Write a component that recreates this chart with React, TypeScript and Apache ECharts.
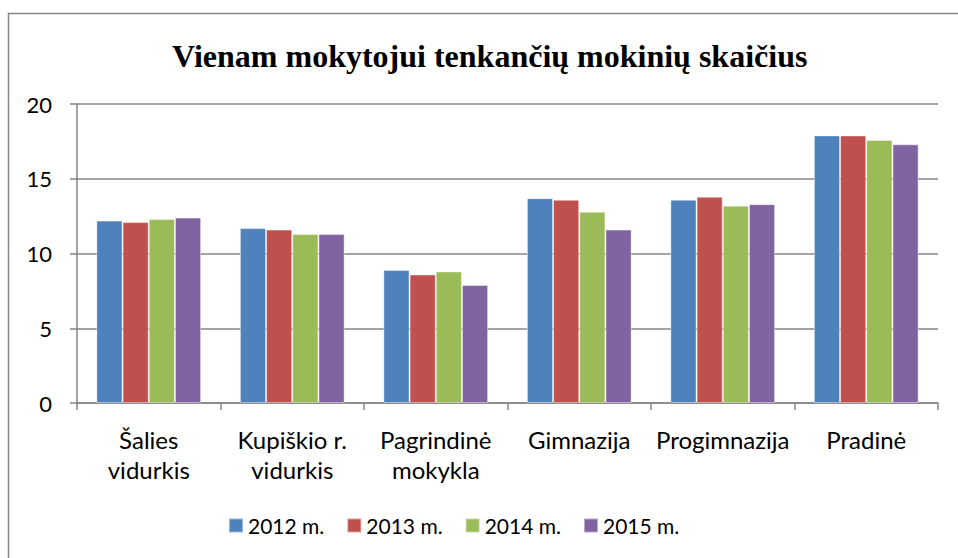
import React, { useEffect, useRef } from "react";
import * as echarts from "echarts";

const categories = [
  "Šalies\nvidurkis",
  "Kupiškio r.\nvidurkis",
  "Pagrindinė\nmokykla",
  "Gimnazija",
  "Progimnazija",
  "Pradinė",
];
const seriesNames = ["2012 m.", "2013 m.", "2014 m.", "2015 m."];
const values2012 = [12.2, 11.7, 8.9, 13.7, 13.6, 17.9];
const values2013 = [12.1, 11.6, 8.6, 13.6, 13.8, 17.9];
const values2014 = [12.3, 11.3, 8.8, 12.8, 13.2, 17.6];
const values2015 = [12.4, 11.3, 7.9, 11.6, 13.3, 17.3];
const colors = ["#4F81BD", "#C0504D", "#9BBB59", "#8064A2"];
const titleText = "Vienam mokytojui tenkančių mokinių skaičius";

export default function App() {
  const ref = useRef<HTMLDivElement>(null);
  useEffect(() => {
    if (!ref.current) return;
    const chart = echarts.init(ref.current, undefined, { renderer: "svg" });
    const allValues = [values2012, values2013, values2014, values2015];
    const font = "Lato, 'Open Sans', sans-serif";
    chart.setOption({
      animation: false,
      backgroundColor: "#ffffff",
      color: colors,
      title: {
        text: titleText,
        left: 167,
        top: 35,
        textStyle: {
          fontFamily: "'Liberation Serif', 'Times New Roman', serif",
          fontWeight: "bold",
          fontSize: 32,
          color: "#000",
        },
      },
      graphic: [
        {
          type: "rect",
          shape: { x: 8.5, y: 13.5, width: 1200, height: 1200 },
          style: { fill: "none", stroke: "#868686", lineWidth: 1.5 },
          silent: true,
        },
      ],
      legend: {
        bottom: 17,
        left: 223,
        itemWidth: 14,
        itemHeight: 14,
        itemGap: 22,
        icon: "rect",
        textStyle: { fontFamily: font, fontSize: 21, color: "#000" },
        data: seriesNames,
      },
      grid: { left: 77, right: 20, top: 104, bottom: 155 },
      xAxis: {
        type: "category",
        data: categories,
        axisLine: { lineStyle: { color: "#868686", width: 1.5 } },
        axisTick: { show: true, length: 7, lineStyle: { color: "#868686", width: 1.5 } },
        axisLabel: {
          fontFamily: font,
          fontSize: 24,
          color: "#000",
          lineHeight: 30,
          margin: 21,
          interval: 0,
        },
      },
      yAxis: {
        type: "value",
        min: 0,
        max: 20,
        interval: 5,
        axisLine: { show: true, lineStyle: { color: "#868686", width: 1.5 } },
        axisTick: { show: true, length: 7, lineStyle: { color: "#868686", width: 1.5 } },
        splitLine: { lineStyle: { color: "#868686", width: 1.5 } },
        axisLabel: { fontFamily: font, fontSize: 22, color: "#000", margin: 25 },
      },
      series: seriesNames.map((name, i) => ({
        name,
        type: "bar",
        data: allValues[i],
        barGap: "0%",
        barCategoryGap: "27%",
        itemStyle: { color: colors[i], borderColor: "rgba(255,255,255,0.45)", borderWidth: 1 },
      })),
    });
    return () => chart.dispose();
  }, []);
  return (
    <div
      ref={ref}
      style={{ position: "absolute", left: 0, top: 0, width: 958, height: 558 }}
    />
  );
}
